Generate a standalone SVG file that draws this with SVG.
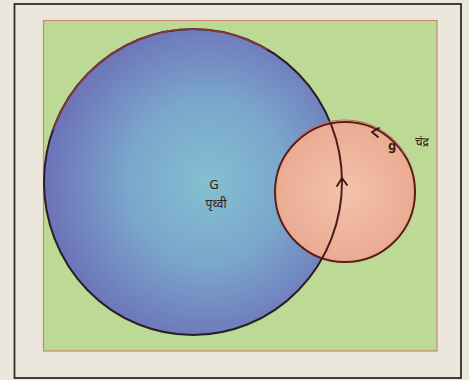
<svg xmlns="http://www.w3.org/2000/svg" width="469" height="380" viewBox="0 0 469 380">
  <defs>
    <radialGradient id="earthFill" cx="0.55" cy="0.5" r="0.6">
      <stop offset="0" stop-color="#84c0d0"/>
      <stop offset="0.45" stop-color="#7aa6cc"/>
      <stop offset="1" stop-color="#6a68b4"/>
    </radialGradient>
    <radialGradient id="moonFill" cx="0.5" cy="0.5" r="0.6">
      <stop offset="0" stop-color="#f3c2aa"/>
      <stop offset="1" stop-color="#e9a68e"/>
    </radialGradient>
    <clipPath id="moonClip">
      <circle cx="345" cy="192" r="70"/>
    </clipPath>
    <style>
      .lbl { font-family: "Noto Sans Devanagari", "Noto Sans", "DejaVu Sans", sans-serif; fill: #3a1a14; }
      .arrow { fill: none; stroke: #3a1410; stroke-width: 1.8; stroke-linecap: round; stroke-linejoin: round; }
    </style>
  </defs>
  <rect x="0" y="0" width="469" height="380" fill="#ebe7dc"/>
  <rect x="14.5" y="4" width="446.5" height="374" fill="none" stroke="#2e2e28" stroke-width="1.8"/>
  <rect x="43.5" y="20.5" width="393.5" height="330.5" fill="#bcd996" stroke="#c98a6e" stroke-width="1.2"/>

  <g id="earth">
    <ellipse cx="193" cy="182" rx="149" ry="153" fill="url(#earthFill)" stroke="#2a1e26" stroke-width="2"/>
    <path d="M 53 130 A 149 153 0 0 1 267.5 49.5" fill="none" stroke="#a8403a" stroke-width="1.6" opacity="0.8"/>
  </g>

  <g id="moon">
    <circle cx="345" cy="192" r="70" fill="url(#moonFill)" stroke="#5a1e18" stroke-width="2"/>
    <path d="M 296 142 A 70 70 0 0 1 405 156" fill="none" stroke="#c8706a" stroke-width="1.2" transform="translate(0,-2)"/>
    <ellipse cx="193" cy="182" rx="149" ry="153" fill="none" stroke="#4a1e1c" stroke-width="2" clip-path="url(#moonClip)"/>
  </g>

  <g id="connectors">
    <path class="arrow" d="M 379 128 L 372 132 L 378 137"/>
    <path class="arrow" d="M 337 186 L 342 178 L 347 185"/>
  </g>

  <g id="earth-label">
    <text class="lbl" x="214" y="189" font-size="13" text-anchor="middle">G</text>
    <text class="lbl" x="216" y="208" font-size="12" text-anchor="middle">पृथ्वी</text>
  </g>
  <g id="moon-label">
    <text class="lbl" x="392" y="150" font-size="13" font-weight="bold" text-anchor="middle">g</text>
    <text class="lbl" x="422" y="146" font-size="12" text-anchor="middle">चंद्र</text>
  </g>
</svg>
